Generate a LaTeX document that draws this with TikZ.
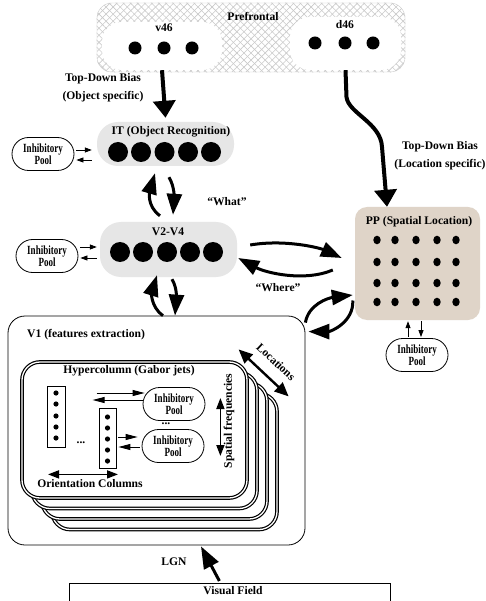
\documentclass[tikz,border=0pt]{standalone}
\usepackage{fontspec}
\setmainfont{Liberation Serif}
\newfontfamily\poolfont[FakeStretch=0.72]{Liberation Serif}
\usetikzlibrary{arrows.meta,patterns.meta,shapes.misc}
\definecolor{areagray}{HTML}{E6E6E6}
\definecolor{ppbeige}{HTML}{DFD4C8}
\definecolor{hatchgray}{HTML}{CACACA}

\tikzset{
  lbl/.style={font=\fontsize{11.6}{18}\selectfont\bfseries, inner sep=0pt, align=center},
  pool/.style={rounded rectangle, draw, line width=0.8pt, fill=white, minimum width=62pt, minimum height=33pt, inner sep=0pt, align=center, font=\poolfont\fontsize{12.5}{12.5}\selectfont\bfseries},
  areabox/.style={fill=areagray, rounded corners=21pt, inner sep=0pt},
  layerbox/.style={draw, line width=1.2pt, double=white, double distance=1.3pt, fill=white, rounded corners=18pt},
  colbox/.style={draw, line width=0.8pt, minimum width=18pt, minimum height=61pt, inner sep=0pt},
  bigarrow/.style={line width=3pt, -{Triangle[length=21pt,width=15pt]}},
  toparrow/.style={line width=4pt, -{Triangle[length=17pt,width=22pt]}},
  poolarrow/.style={line width=0.8pt, -{Triangle[length=7pt,width=5pt]}},
  colarrow/.style={line width=0.9pt, -{Triangle[length=12pt,width=6pt]}},
  dimarrow/.style={line width=1.6pt, {Triangle[length=11pt,width=8pt]}-{Triangle[length=11pt,width=8pt]}},
  locarrow/.style={line width=2.4pt, {Triangle[length=14pt,width=12pt]}-{Triangle[length=14pt,width=12pt]}},
}

\begin{document}
\begin{tikzpicture}[x=1pt, y=-1pt]
  \useasboundingbox[fill=white] (0,0) rectangle (486,601);

  % Prefrontal
  \node[minimum width=308pt, minimum height=69pt, rounded corners=15pt, draw=hatchgray,
        pattern={Lines[angle=45,distance=5pt,line width=0.6pt]}, pattern color=hatchgray] (prefrontal) at (251,37.5) {};
  \path[pattern={Lines[angle=-45,distance=5pt,line width=0.6pt]}, pattern color=hatchgray, rounded corners=15pt]
        (prefrontal.south west) rectangle (prefrontal.north east);
  \node[fill=white, rounded corners=20pt, minimum width=120pt, minimum height=48pt] (v46) at (162,46) {};
  \node[fill=white, rounded corners=20pt, minimum width=111pt, minimum height=53pt] (d46) at (345.5,43.5) {};
  \node[lbl] at (253,16) {Prefrontal};
  \node[lbl] at (164,28) {v46};
  \node[lbl] at (345,25) {d46};
  \foreach \x in {135,164,192} \fill (\x,48) circle (6.5pt);
  \foreach \x in {315,345,373} \fill (\x,43) circle (6.5pt);

  % Top-down bias labels
  \node[lbl] at (103,88) {Top-Down Bias\\(Object specific)};
  \node[lbl] at (440,156) {Top-Down Bias\\(Location specific)};

  % IT
  \node[areabox, minimum width=137pt, minimum height=44pt] (it) at (165.5,144) {};
  \node[lbl] at (171,132) {IT (Object Recognition)};
  \foreach \x in {118,141,164.5,188,211} \fill (\x,152) circle (10pt);

  % V2-V4
  \node[areabox, minimum width=137pt, minimum height=55pt] (v24) at (168.5,249.5) {};
  \node[lbl] at (168,232) {V2-V4};
  \foreach \x in {120,143,167,190,213} \fill (\x,252) circle (10pt);

  % PP
  \node[fill=ppbeige, rounded corners=12pt, minimum width=125pt, minimum height=113pt] (pp) at (417.5,263.5) {};
  \node[lbl] at (419,222) {PP (Spatial Location)};
  \foreach \x in {377,395,416,437,456}
    \foreach \y in {240,262,283,302}
      \fill (\x,\y) ellipse (3.7pt and 4.3pt);

  % Inhibitory pools
  \node[pool] (itpool) at (43,154) {Inhibitory\\Pool};
  \node[pool] (v24pool) at (47,256) {Inhibitory\\Pool};
  \node[pool] (pppool) at (417,355) {Inhibitory\\Pool};

  \node[lbl] at (227,202) {“What”};
  \node[lbl] at (278,288) {“Where”};

  % V1
  \node[draw, line width=0.8pt, rounded corners=17pt, minimum width=297pt, minimum height=229pt] (v1) at (156.5,430.5) {};
  \node[lbl, anchor=west] at (27,335) {V1 (features extraction)};

  % Hypercolumn stack
  \foreach \k in {3,2,1}
    \path[layerbox] (22+10*\k,362+10.5*\k) rectangle +(225,136);
  \node[layerbox, minimum width=225pt, minimum height=136pt] (hyper) at (134.5,430) {};
  \node[lbl] at (129,371) {Hypercolumn (Gabor jets)};

  \node[colbox] (colA) at (56,416.5) {};
  \node[colbox, minimum width=17pt, minimum height=60pt] (colB) at (107.5,438) {};
  \foreach \y in {393,404,416,427,438} \fill (56,\y) circle (2.6pt);
  \foreach \y in {417,428,439,450,461} \fill (107.5,\y) circle (2.6pt);
  \node[lbl] at (81,443) {...};

  \node[pool] (hpoolA) at (174,404) {Inhibitory\\Pool};
  \node[pool] (hpoolB) at (173,446) {Inhibitory\\Pool};
  \node[lbl] at (166,424) {...};

  \node[lbl] at (90,484) {Orientation Columns};
  \node[lbl, rotate=90] at (229,421) {Spatial frequencies};
  \node[lbl, rotate=-43] at (276,362) {Locations};

  % Visual field
  \node[draw, line width=0.8pt, minimum width=321pt, minimum height=22pt, anchor=north west, inner sep=0pt] (visfield) at (69,583) {};
  \node[lbl] at (233,591) {Visual Field};
  \node[lbl] at (174,562) {LGN};

  % Top-down arrows
  \draw[toparrow] (v46.south) -- ([yshift=4pt]it.north);
  \draw[toparrow] (d46.south) -- ++(1,27) .. controls +(2,16) and +(-1,-24) .. (382,147) -- ([xshift=-30.5pt]pp.north);

  % Pool arrows
  \draw[poolarrow] ([shift={(2,-4)}]itpool.east) -- ([shift={(-5,6)}]it.west);
  \draw[poolarrow] ([shift={(-5,16)}]it.west) -- ([shift={(2,6)}]itpool.east);
  \draw[poolarrow] ([shift={(2,-9)}]v24pool.east) -- ([shift={(-3,-2.5)}]v24.west);
  \draw[poolarrow] ([shift={(-3,8.5)}]v24.west) -- ([shift={(2,2)}]v24pool.east);
  \draw[poolarrow] ([shift={(-9,-1)}]pppool.north) -- ([shift={(-9.5,1)}]pp.south);
  \draw[poolarrow] ([shift={(3.5,1)}]pp.south) -- ([shift={(4,-1)}]pppool.north);

  % Feedforward / feedback
  \draw[bigarrow] ([shift={(-8.5,-6)}]v24.north) .. controls +(-14,-10) and +(-5,17) .. ([shift={(-10.5,7)}]it.south);
  \draw[bigarrow] ([shift={(3.5,11)}]it.south) .. controls +(6,10) and +(1,-15) .. ([shift={(4.5,-7)}]v24.north);
  \draw[bigarrow] ([xshift=6.5pt]v1.north) .. controls +(-13,-9) and +(-5,16) .. ([shift={(-11.5,-2)}]v24.south);
  \draw[bigarrow] ([shift={(3.5,2)}]v24.south) .. controls +(6,10) and +(1,-14) .. ([xshift=18.5pt]v1.north);
  \draw[bigarrow] ([shift={(13,-4.5)}]v24.east) .. controls +(35,-6) and +(-22,-10) .. ([shift={(-13,-5.5)}]pp.west);
  \draw[bigarrow] ([shift={(-22,6.5)}]pp.west) .. controls +(-28,12) and +(28,15) .. ([shift={(1,8.5)}]v24.east);
  \draw[bigarrow] ([yshift=-7pt]v1.north east) .. controls +(3,-18) and +(-25,3) .. ([shift={(-2,31.5)}]pp.west);
  \draw[bigarrow] ([shift={(-2,37)}]pp.west) .. controls +(1,22) and +(22,0) .. ([shift={(3,16)}]v1.north east);

  % Hypercolumn arrows
  \draw[colarrow] ([shift={(-46,-11)}]hpoolA.west) -- ([shift={(2,-11)}]hpoolA.west);
  \draw[colarrow] ([shift={(0,-4)}]hpoolA.west) -- ([shift={(-50,-4)}]hpoolA.west);
  \draw[colarrow] ([shift={(2,-1)}]colB.east) -- ([shift={(-4,-9)}]hpoolB.west);
  \draw[colarrow] ([shift={(-2,1)}]hpoolB.west) -- ([shift={(2,9)}]colB.east);
  \draw[dimarrow] ([shift={(-8,27)}]colA.south) -- ([shift={(10.5,6)}]colB.south);
  \draw[dimarrow] ([shift={(15,-6)}]hpoolA.east) -- ([shift={(16,10)}]hpoolB.east);
  \draw[locarrow] ([shift={(-9,-12)}]hyper.north east) -- ([shift={(41,35)}]hyper.north east);

  % LGN
  \draw[bigarrow, -{Triangle[length=22pt,width=16pt]}] ([shift={(-10.5,-2)}]visfield.north) -- ([shift={(44.5,1)}]v1.south);
\end{tikzpicture}
\end{document}
